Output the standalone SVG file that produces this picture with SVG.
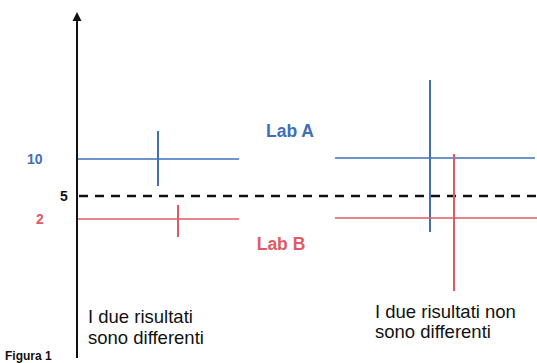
<svg xmlns="http://www.w3.org/2000/svg" width="537" height="363" viewBox="0 0 537 363">
<defs>
<style>
.bg{fill:#ffffff}
.axis{stroke:#111;stroke-width:2;fill:none}
.ref{stroke:#111;stroke-width:2.5;stroke-dasharray:9 7;fill:none}
.blue{stroke:#3f6fba;fill:none}
.red{stroke:#e05a62;fill:none}
.h{stroke-width:1.6}
.v{stroke-width:2}
.lab{font-family:"Liberation Sans",Arial,sans-serif;font-weight:bold}
.txt{font-family:"Liberation Sans",Arial,sans-serif;font-size:18.5px;fill:#111}
.tb{fill:#3f6fba}
.tr{fill:#e05a62}
</style>
<marker id="arr" markerWidth="10" markerHeight="10" refX="5" refY="8" orient="auto" markerUnits="userSpaceOnUse" viewBox="0 0 10 10">
<path d="M1,8 L5,0 L9,8 Z" fill="#111"/>
</marker>
</defs>
<rect class="bg" x="0" y="0" width="537" height="363"/>
<g id="connectors">
<line id="y-axis" class="axis" x1="77" y1="358" x2="77" y2="21"/>
<path d="M72.5,21 L77,12 L81.5,21 Z" fill="#111"/>
<line id="ref-line" class="ref" x1="79" y1="196" x2="537" y2="196"/>
</g>
<g id="axis-labels">
<text class="lab tb" x="27" y="164" font-size="14">10</text>
<text class="lab" x="60" y="201" font-size="14" fill="#111">5</text>
<text class="lab tr" x="36" y="224" font-size="14">2</text>
</g>
<g id="case-different">
<line class="blue h" x1="78" y1="159" x2="239" y2="159"/>
<line class="blue v" x1="158" y1="131" x2="158" y2="186"/>
<line class="red h" x1="78" y1="219" x2="239" y2="219"/>
<line class="red v" x1="178" y1="205" x2="178" y2="237"/>
<text class="txt" x="88" y="323">I due risultati</text>
<text class="txt" x="88" y="344">sono differenti</text>
</g>
<g id="lab-labels">
<text class="lab tb" x="290" y="137" font-size="17.5" text-anchor="middle">Lab A</text>
<text class="lab tr" x="281" y="250" font-size="17.5" text-anchor="middle">Lab B</text>
</g>
<g id="case-same">
<line class="blue h" x1="335" y1="158" x2="535" y2="158"/>
<line class="blue v" x1="430" y1="80" x2="430" y2="232"/>
<line class="red h" x1="335" y1="218" x2="537" y2="218"/>
<line class="red v" x1="454" y1="154" x2="454" y2="291"/>
<text class="txt" x="375" y="318">I due risultati non</text>
<text class="txt" x="375" y="338">sono differenti</text>
</g>
<g id="caption">
<text class="lab" x="5" y="360" font-size="12" fill="#111">Figura 1</text>
</g>
</svg>
